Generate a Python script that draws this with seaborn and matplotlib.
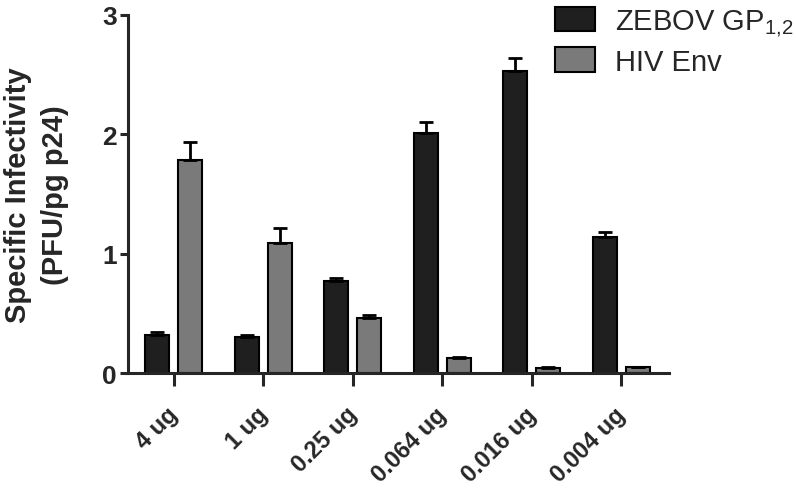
import numpy as np
import pandas as pd
import matplotlib
matplotlib.use("Agg")
import matplotlib.pyplot as plt
import matplotlib.transforms as mtransforms
from matplotlib.patches import Patch
import seaborn as sns

# Data
doses = ["4 ug", "1 ug", "0.25 ug", "0.064 ug", "0.016 ug", "0.004 ug"]
zebov = [0.32, 0.30, 0.77, 2.01, 2.53, 1.14]
zebov_err = [0.02, 0.015, 0.025, 0.09, 0.11, 0.045]
hiv = [1.78, 1.09, 0.46, 0.13, 0.045, 0.048]
hiv_err = [0.15, 0.125, 0.03, 0.005, 0.004, 0.004]
series = ["ZEBOV GP$_{1{,}2}$", "HIV Env"]
colors = ["#1f1f1f", "#7a7a7a"]

df = pd.DataFrame({
    "dose": doses * 2,
    "value": zebov + hiv,
    "env": [series[0]] * len(doses) + [series[1]] * len(doses),
})

sns.set_style("ticks")
plt.rcParams["font.family"] = ["Liberation Sans", "DejaVu Sans"]
plt.rcParams["mathtext.default"] = "regular"

fig = plt.figure(figsize=(7.96, 4.89), dpi=100)
ax = fig.add_axes([0.161, 0.235, 0.679, 0.733])

sns.barplot(data=df, x="dose", y="value", hue="env", palette=colors,
            width=0.74, gap=0.27, edgecolor="black", linewidth=1.5,
            saturation=1, errorbar=None, legend=False, ax=ax)

# upward-only error bars (GraphPad style)
for cont, err in zip(ax.containers, [zebov_err, hiv_err]):
    xs = [p.get_x() + p.get_width() / 2 for p in cont.patches]
    ys = [p.get_height() for p in cont.patches]
    ax.errorbar(xs, ys, yerr=[np.zeros(len(err)), err], fmt="none",
                ecolor="black", elinewidth=2, capsize=5, capthick=2, zorder=1)

ax.set_ylim(0, 3)
ax.set_xlim(-0.51, 5.53)
ax.set_yticks([0, 1, 2, 3])
sns.despine(ax=ax)
for s in ["left", "bottom"]:
    ax.spines[s].set_linewidth(2.2)

ax.tick_params(axis="y", length=6, width=2.2, pad=2, labelsize=19)
ax.tick_params(axis="x", length=9, width=2.2, pad=12, labelsize=17)
for lab in ax.get_yticklabels():
    lab.set_fontweight("bold")
offset = mtransforms.ScaledTranslation(0.09, 0, fig.dpi_scale_trans)
for lab in ax.get_xticklabels():
    lab.set_fontweight("bold")
    lab.set_rotation(45)
    lab.set_ha("right")
    lab.set_va("top")
    lab.set_transform(lab.get_transform() + offset)

ax.set_xlabel("")
ax.set_ylabel("Specific Infectivity\n(PFU/pg p24)", fontsize=21,
              fontweight="bold", linespacing=1.4)
ax.yaxis.set_label_coords(-0.11, 0.5)

handles = [Patch(facecolor=c, edgecolor="black", linewidth=1.5) for c in colors]
fig.legend(handles, series, loc="upper left", bbox_to_anchor=(0.69, 0.995),
           frameon=False, fontsize=21, handlelength=1.37, handleheight=0.9,
           handletextpad=0.7, labelspacing=0.3, borderaxespad=0, borderpad=0.2)

fig.savefig("out.png", dpi=100)
